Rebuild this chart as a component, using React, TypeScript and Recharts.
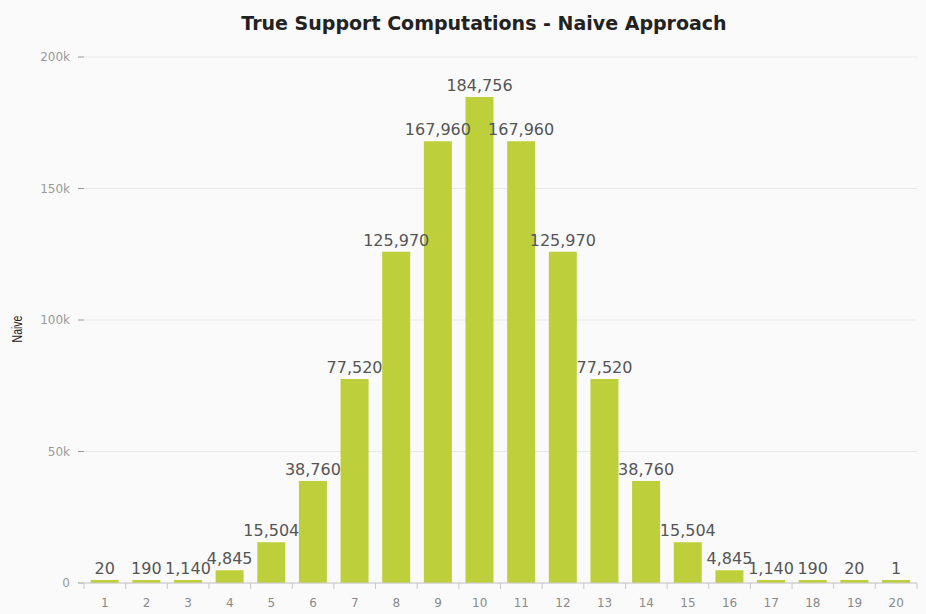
import React from 'react';
import { BarChart, Bar, XAxis, YAxis, CartesianGrid, LabelList } from 'recharts';

// Number of items chosen (k) out of 20 and the count of support computations C(20, k)
const itemCounts = [1, 2, 3, 4, 5, 6, 7, 8, 9, 10, 11, 12, 13, 14, 15, 16, 17, 18, 19, 20];
const naiveCounts = [
  20, 190, 1140, 4845, 15504, 38760, 77520, 125970, 167960, 184756,
  167960, 125970, 77520, 38760, 15504, 4845, 1140, 190, 20, 1,
];
const yTicks = [0, 50000, 100000, 150000, 200000];

const data = itemCounts.map((k, i) => ({ k: String(k), naive: naiveCounts[i] }));

const WIDTH = 926;
const HEIGHT = 614;
const MARGIN = { top: 57, right: 9, bottom: 0, left: 0 };
const Y_AXIS_WIDTH = 84;
const BAND = (WIDTH - MARGIN.left - MARGIN.right - Y_AXIS_WIDTH) / itemCounts.length;

const FONT = '"DejaVu Sans", Verdana, sans-serif';
const NARROW_FONT = '"Liberation Sans", Arial, sans-serif';

const XTick = (props: any) => {
  const { x, y, payload, index } = props;
  const left = x - BAND / 2;
  const isLast = index === itemCounts.length - 1;
  return (
    <g>
      <line x1={left} x2={left} y1={y - 8} y2={y - 2} stroke="#c8c8c8" />
      {isLast && <line x1={left + BAND} x2={left + BAND} y1={y - 8} y2={y - 2} stroke="#c8c8c8" />}
      <text x={x} y={y + 16} textAnchor="middle" fill="#8a8a8a" fontSize={12} fontFamily={FONT}>
        {payload.value}
      </text>
    </g>
  );
};

const fmtY = (v: number) => (v === 0 ? '0' : `${v / 1000}k`);

const AxisTitle = (p: any) => {
  const vb = p.viewBox;
  const cy = vb.y + vb.height / 2 + 9;
  return (
    <text
      x={0}
      y={0}
      transform={`translate(17, ${cy}) rotate(-90) scale(0.75, 1.05)`}
      textAnchor="middle"
      dominantBaseline="central"
      fill="#222"
      fontSize={14}
      fontFamily={NARROW_FONT}
    >
      Naive
    </text>
  );
};

export default function App() {
  return (
    <div style={{ position: 'absolute', left: 0, top: 0, width: WIDTH, height: HEIGHT, background: '#fafafa' }}>
      <div
        style={{
          position: 'absolute',
          left: 21,
          top: 12,
          width: WIDTH,
          textAlign: 'center',
          fontFamily: FONT,
          fontWeight: 'bold',
          fontSize: 19,
          lineHeight: '22px',
          color: '#222',
        }}
      >
        True Support Computations - Naive Approach
      </div>
      <BarChart width={WIDTH} height={HEIGHT} data={data} margin={MARGIN} barCategoryGap="16%">
        <CartesianGrid vertical={false} stroke="#e8e8e8" />
        <XAxis
          dataKey="k"
          height={31}
          tick={<XTick />}
          tickLine={false}
          axisLine={{ stroke: '#c8c8c8' }}
          interval={0}
        />
        <YAxis
          width={Y_AXIS_WIDTH}
          domain={[0, 200000]}
          ticks={yTicks}
          tickFormatter={fmtY}
          axisLine={false}
          tickLine={{ stroke: '#9a9a9a' }}
          tickSize={6}
          tickMargin={8}
          tick={{ fill: '#9a9a9a', fontSize: 12, fontFamily: FONT }}
          label={{ content: AxisTitle }}
        />
        <Bar dataKey="naive" fill="#bdcf3a" minPointSize={3} isAnimationActive={false}>
          <LabelList
            dataKey="naive"
            position="top"
            offset={6}
            formatter={(v: any) => Number(v).toLocaleString('en-US')}
            style={{ fill: '#555', fontSize: 16, fontFamily: FONT }}
          />
        </Bar>
      </BarChart>
    </div>
  );
}
